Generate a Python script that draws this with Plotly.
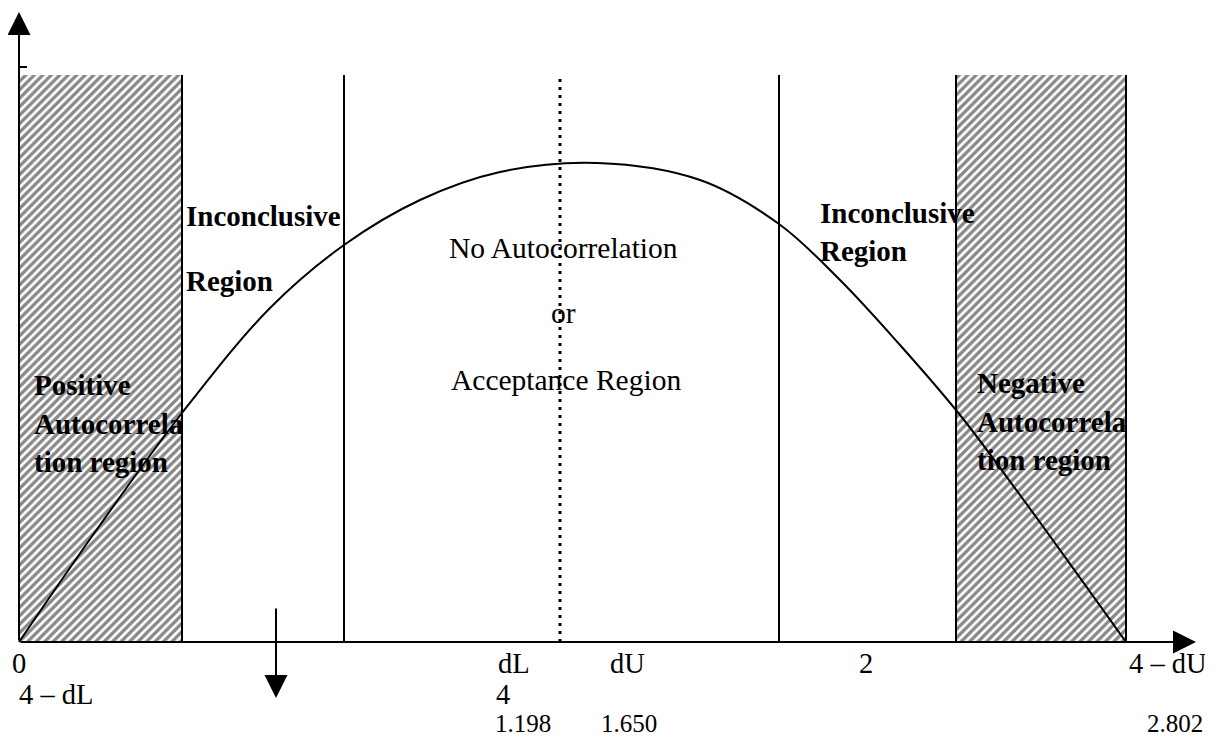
import plotly.graph_objects as go

# ---- data (chart units = pixel-like layout units) ----
region_x = [19, 182, 344, 560, 779, 956, 1126]   # 0 | dL | dU | 2 | 4-dU | 4-dL | 4
top_y = 75
base_y = 642

curve_x = [19, 100, 182, 270, 344, 420, 500, 597, 700, 779, 840, 900, 960, 1020, 1126]
curve_y = [642, 525, 413, 308, 245, 200, 172, 163, 180, 224, 280, 345, 415, 495, 642]

row1_labels = ["0", "dL", "dU", "2", "4 – dU"]
row1_x = [19, 514, 627, 866, 1168]
row2_labels = ["4 – dL", "4"]
row2_x = [19, 503]
row3_labels = ["1.198", "1.650", "2.802"]
row3_x = [523, 629, 1175]

FONT = "Liberation Serif"
OFF = 8  # page body margin

fig = go.Figure()

# hatched regions (positive / negative autocorrelation)
for x0, x1 in [(region_x[0], region_x[1]), (region_x[5], region_x[6])]:
    fig.add_trace(go.Scatter(
        x=[x0, x1, x1, x0, x0], y=[base_y, base_y, top_y, top_y, base_y],
        mode="lines", fill="toself", line=dict(width=0, color="rgba(0,0,0,0)"),
        fillcolor="white",
        fillpattern=dict(shape="/", size=6, solidity=0.55, fgcolor="#111", bgcolor="white"),
        hoverinfo="skip", showlegend=False))

# vertical boundary lines
for xv in region_x[1:]:
    dotted = (xv == region_x[3])
    fig.add_trace(go.Scatter(
        x=[xv, xv], y=[base_y, top_y], mode="lines",
        line=dict(color="black", width=3 if dotted else 2, dash="3px,5px" if dotted else "solid"),
        hoverinfo="skip", showlegend=False))

# the curve
fig.add_trace(go.Scatter(x=curve_x, y=curve_y, mode="lines",
                         line=dict(color="black", width=2, shape="spline", smoothing=1.0),
                         hoverinfo="skip", showlegend=False))

# small tick near top of y-axis
fig.add_trace(go.Scatter(x=[19, 27], y=[67, 67], mode="lines",
                         line=dict(color="black", width=2), hoverinfo="skip", showlegend=False))

# axes with arrows
arrows = [
    dict(x=19, y=12, ax=19, ay=base_y),        # y axis
    dict(x=1196, y=base_y, ax=19, ay=base_y),  # x axis
    dict(x=276, y=698, ax=276, ay=607),        # down arrow
]
for a in arrows:
    fig.add_annotation(x=a["x"], y=a["y"], ax=a["ax"], ay=a["ay"], xref="x", yref="y",
                       axref="x", ayref="y", text="", showarrow=True, arrowhead=2,
                       arrowsize=2.3, arrowwidth=2, arrowcolor="black", standoff=0, startstandoff=0)

def txt(x, y, s, size=29, bold=False, xanchor="left"):
    fig.add_annotation(x=x, y=y, xref="x", yref="y", text=("<b>%s</b>" % s) if bold else s,
                       showarrow=False, xanchor=xanchor, yanchor="middle",
                       font=dict(family=FONT, size=size, color="black"))

# region texts
txt(184, 216, "Inconclusive", bold=True)
txt(184, 281, "Region", bold=True)
txt(818, 213, "Inconclusive", bold=True)
txt(818, 251, "Region", bold=True)
txt(563, 248, "No Autocorrelation", size=29.5, xanchor="center")
txt(563, 313, "or", size=29.5, xanchor="center")
txt(566, 380, "Acceptance Region", size=29.5, xanchor="center")
for i, s in enumerate(["Positive", "Autocorrela", "tion region"]):
    txt(32, 385 + 38.5 * i, s, bold=True)
for i, s in enumerate(["Negative", "Autocorrela", "tion region"]):
    txt(975, 383 + 38.5 * i, s, bold=True)

# axis labels
for s, xv in zip(row1_labels, row1_x):
    txt(xv, 663, s, size=28.5, xanchor="center")
for s, xv in zip(row2_labels, row2_x):
    txt(xv - (2 if s != "4" else 0), 694, s, size=28.5, xanchor="left" if s != "4" else "center")
for s, xv in zip(row3_labels, row3_x):
    txt(xv, 723, s, size=25, xanchor="center")

fig.update_layout(
    width=1213 - OFF, height=744 - OFF, margin=dict(l=0, r=0, t=0, b=0),
    paper_bgcolor="white", plot_bgcolor="white",
    xaxis=dict(range=[OFF, 1213], visible=False, fixedrange=True),
    yaxis=dict(range=[744, OFF], visible=False, fixedrange=True),
    showlegend=False,
)
fig.write_html("out.html", config={"displayModeBar": False})
